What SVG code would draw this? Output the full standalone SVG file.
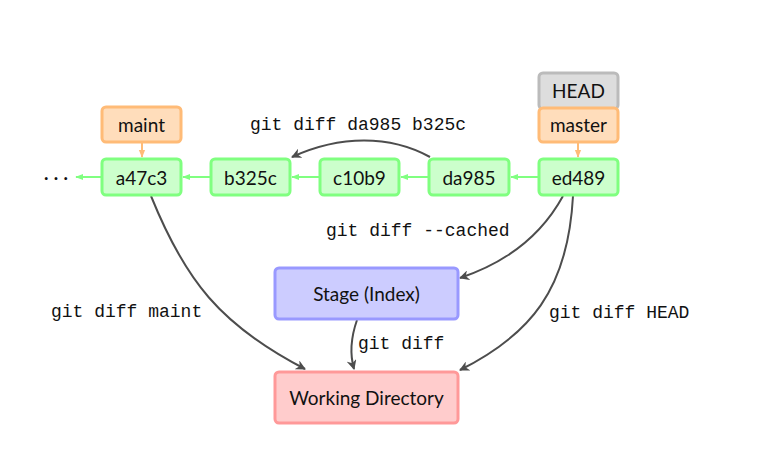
<svg xmlns="http://www.w3.org/2000/svg" width="761" height="470" viewBox="0 0 761 470">
<style>
.n{stroke-width:3}
.c{fill:#ccffcc;stroke:#80ff80}
.b{fill:#ffddbb;stroke:#ffbb77}
.h{fill:#dddddd;stroke:#bbbbbb}
.s{fill:#ccccff;stroke:#9999ff}
.w{fill:#ffcccc;stroke:#ff9999}
.t{font-family:Lato,"Open Sans",sans-serif;font-size:19px;fill:#111;text-anchor:middle;dominant-baseline:central}
.m{font-family:"Liberation Mono","DejaVu Sans Mono",monospace;font-size:18px;fill:#111;dominant-baseline:central}
.ga{stroke:#80ff80;stroke-width:2;fill:none;marker-end:url(#ag)}
.oa{stroke:#ffbb77;stroke-width:2;fill:none;marker-end:url(#ao)}
.da{stroke:#4d4d4d;stroke-width:2;fill:none;marker-end:url(#ad)}
</style>
<defs>
<marker id="ag" viewBox="0 0 10 10" refX="9" refY="5" markerWidth="4" markerHeight="4" orient="auto"><path d="M0,1 L10,5 L0,9 z" fill="#80ff80"/></marker>
<marker id="ao" viewBox="0 0 10 10" refX="9" refY="5" markerWidth="4" markerHeight="4" orient="auto"><path d="M0,1 L10,5 L0,9 z" fill="#ffbb77"/></marker>
<marker id="ad" viewBox="0 0 10 10" refX="9" refY="5" markerWidth="5" markerHeight="5" orient="auto"><path d="M0,0 L10,5 L0,10 L3,5 z" fill="#4d4d4d"/></marker>
</defs>
<g id="connectors">
<path class="ga" d="M102,177 L76,177"/>
<path class="ga" d="M211,177 L183,177"/>
<path class="ga" d="M320,177 L292,177"/>
<path class="ga" d="M429,177 L401,177"/>
<path class="ga" d="M539,177 L511,177"/>
<path class="oa" d="M142,142 L142,157"/>
<path class="oa" d="M578,142 L578,157"/>
<path class="da" d="M430,157 C390,135 340,135 292,157"/>
<path class="da" d="M563,196 C540,238 505,263 460,278"/>
<path class="da" d="M573,196 C568,290 530,335 460,370"/>
<path class="da" d="M151,196 C185,280 220,325 305,369"/>
<path class="da" d="M357,320 C350,340 350,355 354,369"/>
</g>
<text class="t" x="56" y="176">· · ·</text>
<g id="maint"><rect class="n b" x="102" y="107" width="79" height="35" rx="4"/><text class="t" x="141.5" y="124">maint</text></g>
<g id="HEAD"><rect class="n h" x="539" y="73" width="79" height="36" rx="4"/><text class="t" x="578.5" y="90">HEAD</text></g>
<g id="master"><rect class="n b" x="539" y="108" width="79" height="34" rx="4"/><text class="t" x="578.5" y="124">master</text></g>
<g id="a47c3"><rect class="n c" x="102" y="159" width="79" height="36" rx="4"/><text class="t" x="141.5" y="177">a47c3</text></g>
<g id="b325c"><rect class="n c" x="211" y="159" width="79" height="36" rx="4"/><text class="t" x="250.5" y="177">b325c</text></g>
<g id="c10b9"><rect class="n c" x="320" y="159" width="79" height="36" rx="4"/><text class="t" x="359.5" y="177">c10b9</text></g>
<g id="da985"><rect class="n c" x="429" y="159" width="80" height="36" rx="4"/><text class="t" x="469" y="177">da985</text></g>
<g id="ed489"><rect class="n c" x="539" y="159" width="79" height="36" rx="4"/><text class="t" x="578.5" y="177">ed489</text></g>
<g id="stage"><rect class="n s" x="275" y="268" width="183" height="51" rx="4"/><text class="t" x="366.5" y="293">Stage (Index)</text></g>
<g id="wd"><rect class="n w" x="275" y="372" width="183" height="51" rx="4"/><text class="t" x="366.5" y="397">Working Directory</text></g>
<g id="labels">
<text class="m" x="250" y="125">git diff da985 b325c</text>
<text class="m" x="326" y="231">git diff --cached</text>
<text class="m" x="549" y="313">git diff HEAD</text>
<text class="m" x="51" y="312">git diff maint</text>
<text class="m" x="358" y="344">git diff</text>
</g>
</svg>
